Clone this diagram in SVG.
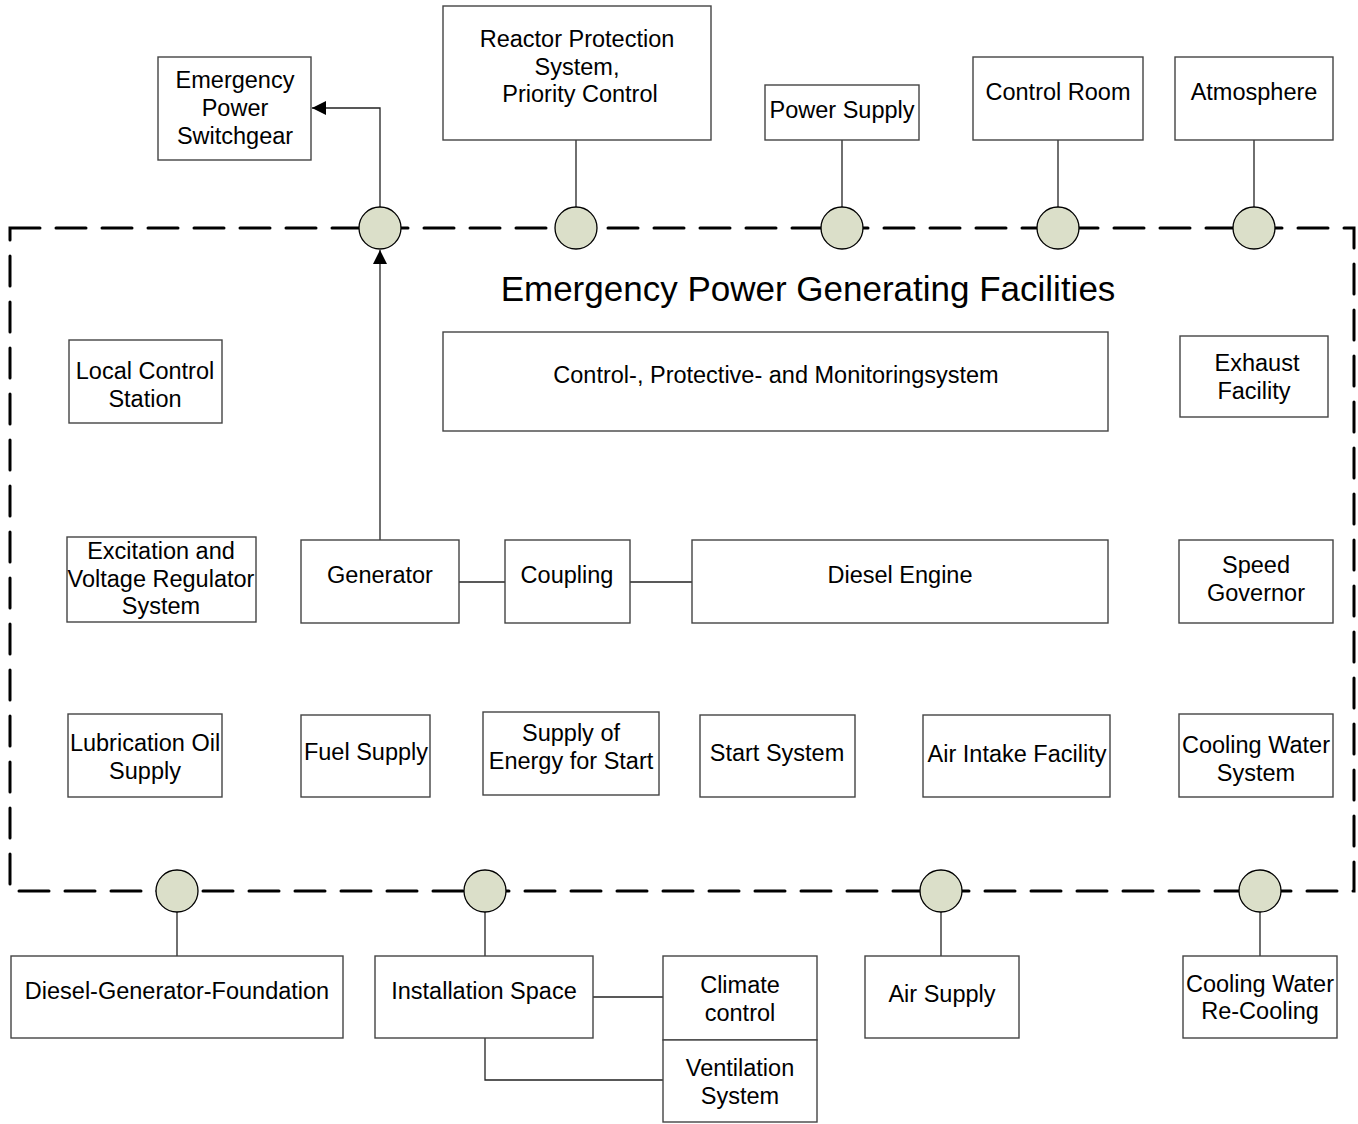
<svg xmlns="http://www.w3.org/2000/svg" width="1358" height="1124" viewBox="0 0 1358 1124">
<defs>
<style>
.box{fill:#fff;stroke:#444;stroke-width:1.4}
.t{font-family:"Liberation Sans",Arial,sans-serif;font-size:23.5px;fill:#000;text-anchor:middle}
.title{font-family:"Liberation Sans",Arial,sans-serif;font-size:35px;fill:#000;text-anchor:middle}
.ln{fill:none;stroke:#222;stroke-width:1.3}
.port{fill:#dbdfc9;stroke:#000;stroke-width:1.3}
</style>
<marker id="arr" viewBox="0 0 10 10" refX="10" refY="5" markerWidth="14" markerHeight="14" markerUnits="userSpaceOnUse" orient="auto"><path d="M0,0 L10,5 L0,10 z" fill="#000"/></marker>
</defs>
<rect x="10" y="228" width="1344" height="663" fill="none" stroke="#000" stroke-width="3" stroke-dasharray="30 16" stroke-linecap="round"/>
<text class="title" x="808" y="301">Emergency Power Generating Facilities</text>
<g id="connectors">
<path class="ln" d="M380,540 V250" marker-end="url(#arr)"/>
<path class="ln" d="M380,207 V108 H312" marker-end="url(#arr)"/>
<path class="ln" d="M576,140 V207"/>
<path class="ln" d="M842,140 V207"/>
<path class="ln" d="M1058,140 V207"/>
<path class="ln" d="M1254,140 V207"/>
<path class="ln" d="M459,582 H505"/>
<path class="ln" d="M630,582 H692"/>
<path class="ln" d="M177,912 V956"/>
<path class="ln" d="M485,912 V956"/>
<path class="ln" d="M941,912 V956"/>
<path class="ln" d="M1260,912 V956"/>
<path class="ln" d="M593,997 H663"/>
<path class="ln" d="M485,1038 V1080 H663"/>
</g>
<g id="ports">
<circle class="port" cx="380" cy="228" r="21"/>
<circle class="port" cx="576" cy="228" r="21"/>
<circle class="port" cx="842" cy="228" r="21"/>
<circle class="port" cx="1058" cy="228" r="21"/>
<circle class="port" cx="1254" cy="228" r="21"/>
<circle class="port" cx="177" cy="891" r="21"/>
<circle class="port" cx="485" cy="891" r="21"/>
<circle class="port" cx="941" cy="891" r="21"/>
<circle class="port" cx="1260" cy="891" r="21"/>
</g>
<g id="emergency-power-switchgear"><rect class="box" x="158" y="57" width="153" height="103"/><text class="t" x="235" y="88">Emergency</text><text class="t" x="235" y="116">Power</text><text class="t" x="235" y="144">Switchgear</text></g>
<g id="reactor-protection"><rect class="box" x="443" y="6" width="268" height="134"/><text class="t" x="577" y="47">Reactor Protection</text><text class="t" x="577" y="75">System,</text><text class="t" x="580" y="102">Priority Control</text></g>
<g id="power-supply"><rect class="box" x="765" y="85" width="154" height="55"/><text class="t" x="842" y="118">Power Supply</text></g>
<g id="control-room"><rect class="box" x="973" y="57" width="170" height="83"/><text class="t" x="1058" y="100">Control Room</text></g>
<g id="atmosphere"><rect class="box" x="1175" y="57" width="158" height="83"/><text class="t" x="1254" y="100">Atmosphere</text></g>
<g id="local-control-station"><rect class="box" x="69" y="340" width="153" height="83"/><text class="t" x="145" y="379">Local Control</text><text class="t" x="145" y="407">Station</text></g>
<g id="control-protective"><rect class="box" x="443" y="332" width="665" height="99"/><text class="t" x="776" y="383">Control-, Protective- and Monitoringsystem</text></g>
<g id="exhaust-facility"><rect class="box" x="1180" y="336" width="148" height="81"/><text class="t" x="1257" y="371">Exhaust</text><text class="t" x="1254" y="399">Facility</text></g>
<g id="excitation"><rect class="box" x="67" y="537" width="189" height="85"/><text class="t" x="161" y="559">Excitation and</text><text class="t" x="161" y="587">Voltage Regulator</text><text class="t" x="161" y="614">System</text></g>
<g id="generator"><rect class="box" x="301" y="540" width="158" height="83"/><text class="t" x="380" y="583">Generator</text></g>
<g id="coupling"><rect class="box" x="505" y="540" width="125" height="83"/><text class="t" x="567" y="583">Coupling</text></g>
<g id="diesel-engine"><rect class="box" x="692" y="540" width="416" height="83"/><text class="t" x="900" y="583">Diesel Engine</text></g>
<g id="speed-governor"><rect class="box" x="1179" y="540" width="154" height="83"/><text class="t" x="1256" y="573">Speed</text><text class="t" x="1256" y="601">Governor</text></g>
<g id="lubrication-oil"><rect class="box" x="68" y="714" width="154" height="83"/><text class="t" x="145" y="751">Lubrication Oil</text><text class="t" x="145" y="779">Supply</text></g>
<g id="fuel-supply"><rect class="box" x="301" y="715" width="129" height="82"/><text class="t" x="366" y="760">Fuel Supply</text></g>
<g id="supply-energy-start"><rect class="box" x="483" y="712" width="176" height="83"/><text class="t" x="571" y="741">Supply of</text><text class="t" x="571" y="769">Energy for Start</text></g>
<g id="start-system"><rect class="box" x="700" y="715" width="155" height="82"/><text class="t" x="777" y="761">Start System</text></g>
<g id="air-intake"><rect class="box" x="923" y="715" width="187" height="82"/><text class="t" x="1017" y="762">Air Intake Facility</text></g>
<g id="cooling-water-system"><rect class="box" x="1179" y="714" width="154" height="83"/><text class="t" x="1256" y="753">Cooling Water</text><text class="t" x="1256" y="781">System</text></g>
<g id="dg-foundation"><rect class="box" x="11" y="956" width="332" height="82"/><text class="t" x="177" y="999">Diesel-Generator-Foundation</text></g>
<g id="installation-space"><rect class="box" x="375" y="956" width="218" height="82"/><text class="t" x="484" y="999">Installation Space</text></g>
<g id="climate-control"><rect class="box" x="663" y="956" width="154" height="84"/><text class="t" x="740" y="993">Climate</text><text class="t" x="740" y="1021">control</text></g>
<g id="ventilation-system"><rect class="box" x="663" y="1040" width="154" height="82"/><text class="t" x="740" y="1076">Ventilation</text><text class="t" x="740" y="1104">System</text></g>
<g id="air-supply"><rect class="box" x="865" y="956" width="154" height="82"/><text class="t" x="942" y="1002">Air Supply</text></g>
<g id="cooling-water-recooling"><rect class="box" x="1183" y="956" width="154" height="82"/><text class="t" x="1260" y="992">Cooling Water</text><text class="t" x="1260" y="1019">Re-Cooling</text></g>
</svg>
